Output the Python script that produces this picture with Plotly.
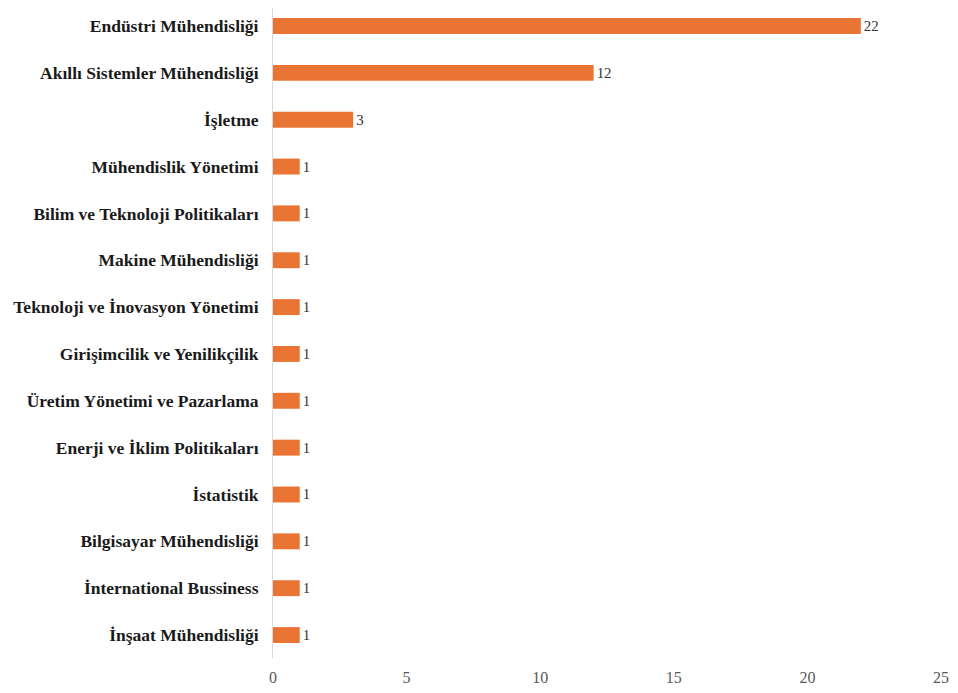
import plotly.graph_objects as go

# programs and how many people came from each
programs = [
    "Endüstri Mühendisliği",
    "Akıllı Sistemler Mühendisliği",
    "İşletme",
    "Mühendislik Yönetimi",
    "Bilim ve Teknoloji Politikaları",
    "Makine Mühendisliği",
    "Teknoloji ve İnovasyon Yönetimi",
    "Girişimcilik ve Yenilikçilik",
    "Üretim Yönetimi ve Pazarlama",
    "Enerji ve İklim Politikaları",
    "İstatistik",
    "Bilgisayar Mühendisliği",
    "İnternational Bussiness",
    "İnşaat Mühendisliği",
]
counts = [22, 12, 3, 1, 1, 1, 1, 1, 1, 1, 1, 1, 1, 1]
x_ticks = [0, 5, 10, 15, 20, 25]

fig = go.Figure()
fig.add_trace(go.Bar(
    x=counts, y=programs, orientation="h",
    marker=dict(color="#EA7434", line=dict(width=0)),
    text=counts, textposition="outside", cliponaxis=False,
    textfont=dict(family="Liberation Serif", size=15, color="#333333"),
))

# page has an 8px body margin, so sizes are trimmed to fit the window
fig.update_layout(
    width=942, height=685,
    margin=dict(l=265, r=9, t=0, b=35),
    paper_bgcolor="white", plot_bgcolor="white",
    showlegend=False, bargap=0.66,
    font=dict(family="Liberation Serif"),
)
fig.update_xaxes(
    range=[0, 25], tickvals=x_ticks, showgrid=False, zeroline=False,
    showline=False, ticks="", ticklabelstandoff=8,
    tickfont=dict(family="Liberation Serif", size=16, color="#595959"),
)
fig.update_yaxes(
    range=[13.49, -0.384], showgrid=False, zeroline=False,
    showline=True, linecolor="#d9d9d9", linewidth=1, ticks="",
    ticklabelstandoff=10, automargin=False,
    tickfont=dict(family="Liberation Serif", size=17.5, color="#1a1a1a", weight="bold"),
)

fig.write_html("out.html")
